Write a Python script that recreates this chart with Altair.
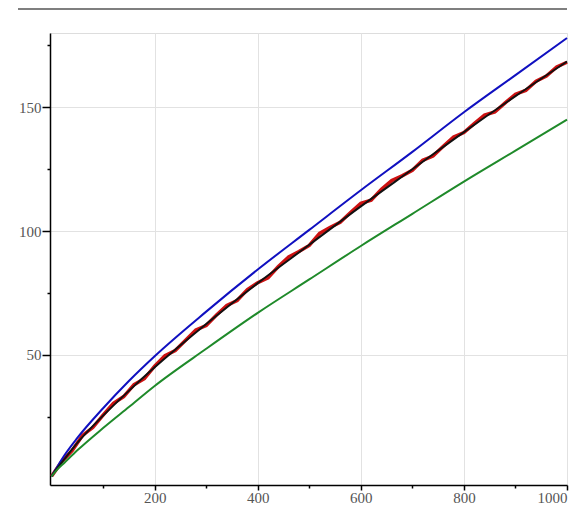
import altair as alt
import pandas as pd

# smooth curves sampled at these x positions
x_smooth = [0, 10, 25, 50, 100, 150, 200, 300, 400, 500, 600, 700, 800, 900, 1000]
blue_vals = [1, 4.5, 9.5, 16.5, 28.5, 39.5, 49.5, 67.5, 84.5, 100.5, 116.5, 132, 148, 163, 178]
black_vals = [1, 4, 8, 14.5, 25.5, 35.5, 45, 62.5, 79, 94.5, 110, 125, 140, 154.5, 168.5]
green_vals = [1, 3.5, 6.5, 11.5, 20.5, 29, 37.5, 52.5, 67, 80.5, 94, 107, 120, 132.5, 145]

# noisy red series
x_red = [0, 20, 40, 60, 80, 100, 120, 140, 160, 180, 200, 220, 240, 260, 280, 300,
         320, 340, 360, 380, 400, 420, 440, 460, 480, 500, 520, 540, 560, 580, 600,
         620, 640, 660, 680, 700, 720, 740, 760, 780, 800, 820, 840, 860, 880, 900,
         920, 940, 960, 980, 1000]
red_vals = [1.0, 7.0, 11.4, 17.5, 20.7, 25.7, 30.5, 33.2, 38.0, 40.4, 45.5, 49.7, 51.8,
            55.9, 60.1, 61.9, 66.1, 70.0, 72.0, 76.4, 79.2, 81.2, 85.7, 89.6, 91.8, 94.2,
            99.1, 101.5, 103.6, 107.5, 111.2, 112.5, 116.9, 120.4, 122.3, 124.6, 128.6,
            130.3, 134.3, 138.0, 139.8, 143.4, 146.9, 148.1, 151.8, 155.3, 156.8, 160.5,
            162.6, 166.3, 168.2]

x_major = [200, 400, 600, 800, 1000]
x_minor = [100, 300, 500, 700, 900]
y_major = [50, 100, 150]
y_minor = [25, 75, 125, 175]

rows = []
for name, vals in [("blue", blue_vals), ("black", black_vals), ("green", green_vals)]:
    for xv, yv in zip(x_smooth, vals):
        rows.append({"x": xv, "y": yv, "s": name})
smooth_df = pd.DataFrame(rows)
red_df = pd.DataFrame({"x": x_red, "y": red_vals})

xscale = alt.Scale(domain=[-3, 1000], nice=False, zero=False)
yscale = alt.Scale(domain=[-2.5, 180], nice=False, zero=False)

label_font = "Liberation Serif"

x_axis_major = alt.Axis(values=x_major, title=None, grid=True, gridColor="#e2e2e2",
                        gridWidth=1, domainColor="black", domainWidth=1.5, format="d",
                        tickColor="black", tickWidth=1.5, tickSize=5, labelPadding=0,
                        labelFont=label_font, labelFontSize=15, labelColor="#555555",
                        orient="bottom")
y_axis_major = alt.Axis(values=y_major, title=None, grid=True, gridColor="#e2e2e2",
                        gridWidth=1, domainColor="black", domainWidth=1.5, format="d",
                        tickColor="black", tickWidth=1.5, tickSize=8, labelPadding=1,
                        labelFont=label_font, labelFontSize=15, labelColor="#555555",
                        orient="left")
x_axis_minor = alt.Axis(values=x_minor, title=None, grid=False, labels=False, domain=False,
                        tickColor="black", tickWidth=1.5, tickSize=3, orient="bottom")
y_axis_minor = alt.Axis(values=y_minor, title=None, grid=False, labels=False, domain=False,
                        tickColor="black", tickWidth=1.5, tickSize=3, orient="left")

red_line = alt.Chart(red_df).mark_line(color="#cc1111", strokeWidth=3.5).encode(
    x=alt.X("x:Q", scale=xscale, axis=x_axis_major),
    y=alt.Y("y:Q", scale=yscale, axis=y_axis_major),
)

color_scale = alt.Scale(domain=["blue", "black", "green"],
                        range=["#1010c0", "#111111", "#1f8a2a"])

smooth_lines = alt.Chart(smooth_df).mark_line(strokeWidth=2, interpolate="monotone").encode(
    x=alt.X("x:Q", scale=xscale, axis=x_axis_minor),
    y=alt.Y("y:Q", scale=yscale, axis=y_axis_minor),
    color=alt.Color("s:N", scale=color_scale, legend=None),
    detail="s:N",
)

top_rule = alt.Chart(pd.DataFrame({"a": [0]})).mark_rule(color="black", strokeWidth=1.2).encode(
    x=alt.value(-32), x2=alt.value(517), y=alt.value(-24)
)

chart = alt.layer(red_line, smooth_lines, top_rule).resolve_axis(
    x="independent", y="independent"
).properties(
    width=517, height=452,
    autosize=alt.AutoSizeParams(type="none"),
    padding={"left": 42, "top": 25, "right": 7, "bottom": 20},
).configure_view(stroke=None).configure(background="white")

chart.save("out.html", embed_options={"renderer": "svg", "actions": False})
